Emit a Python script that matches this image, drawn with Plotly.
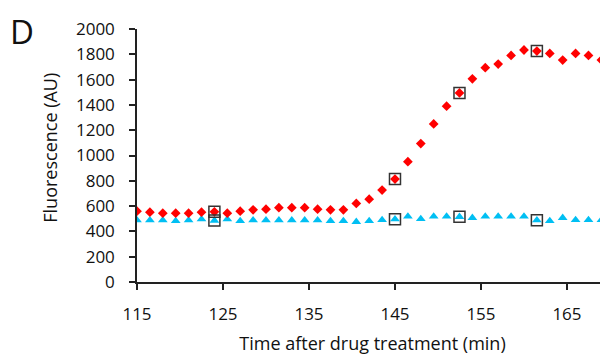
import plotly.graph_objects as go

time_min = [115 + 1.5 * i for i in range(37)]
treated = [560, 552, 544, 544, 544, 552, 555, 544, 560, 571, 576, 587, 587, 587, 576, 571, 571,
           621, 655, 727, 814, 951, 1094, 1250, 1390, 1495, 1606, 1694, 1723, 1791, 1834, 1826,
           1807, 1754, 1807, 1791, 1754]
control = [489, 489, 489, 483, 489, 497, 486, 497, 483, 489, 489, 489, 489, 489, 489, 483, 483,
           476, 483, 491, 497, 518, 499, 518, 518, 515, 507, 518, 518, 518, 518, 489, 483,
           507, 491, 491, 491]
highlight_idx = [6, 20, 25, 31]

x_ticks = [115, 125, 135, 145, 155, 165]
y_ticks = list(range(0, 2001, 200))

FONT = "Open Sans"
INK = "#111111"

fig = go.Figure()
fig.add_trace(go.Scatter(x=time_min, y=control, mode="markers",
                         marker=dict(symbol="triangle-up", size=8.5, color="#00BFF3"),
                         showlegend=False))
fig.add_trace(go.Scatter(x=time_min, y=treated, mode="markers",
                         marker=dict(symbol="diamond", size=7.5, color="#FF0000"),
                         showlegend=False))
hx = [time_min[i] for i in highlight_idx]
fig.add_trace(go.Scatter(x=hx + hx,
                         y=[treated[i] for i in highlight_idx] + [control[i] for i in highlight_idx],
                         mode="markers",
                         marker=dict(symbol="square-open", size=11, color="#333333",
                                     line=dict(width=1.5, color="#333333")),
                         showlegend=False))

axis_common = dict(showgrid=False, zeroline=False, showline=True, linecolor="#222222",
                   linewidth=1.5, ticks="outside", ticklen=6, tickwidth=1.5, automargin=False,
                   tickcolor="#222222", tickfont=dict(family=FONT, size=17, color=INK))

fig.update_xaxes(range=[115, 169.77], tickvals=x_ticks, ticktext=[str(v) for v in x_ticks],
                 title=dict(text="Time after drug treatment (min)",
                            font=dict(family=FONT, size=18, color=INK), standoff=13),
                 ticklabelstandoff=10, **axis_common)
fig.update_yaxes(range=[0, 2000], tickvals=y_ticks, ticktext=[str(v) for v in y_ticks],
                 ticklabelstandoff=11, **axis_common)

fig.add_annotation(text="Fluorescence (AU)", textangle=-90, xref="paper", yref="paper",
                   x=-0.184, y=0.532, xanchor="center", yanchor="middle", showarrow=False,
                   font=dict(family=FONT, size=18, color=INK))
fig.add_annotation(text="D", xref="paper", yref="paper", x=-0.2725, y=1.083,
                   xanchor="left", yanchor="top", showarrow=False, borderpad=0,
                   font=dict(family=FONT, size=33, color=INK))

# page body adds an 8px offset, so the figure is 8px smaller than the window
fig.update_layout(width=600, height=352, margin=dict(l=129, r=0, t=21, b=78),
                  plot_bgcolor="white", paper_bgcolor="white")

fig.write_html("out.html")
